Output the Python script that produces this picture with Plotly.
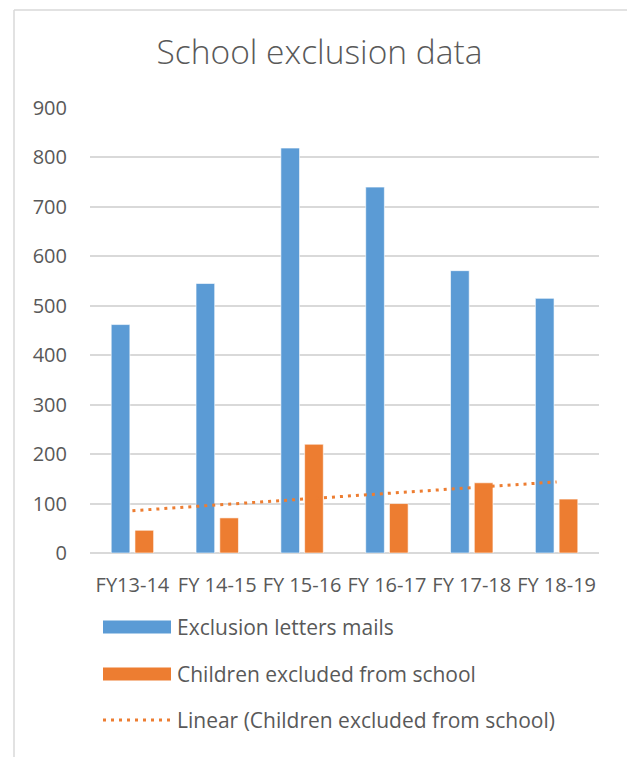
import numpy as np
import plotly.graph_objects as go

categories = ["FY13-14", "FY 14-15", "FY 15-16", "FY 16-17", "FY 17-18", "FY 18-19"]
letters = [462, 545, 819, 740, 571, 515]
excluded = [46, 71, 220, 100, 142, 109]
name_letters = "Exclusion letters mails"
name_excluded = "Children excluded from school"
name_trend = "Linear (Children excluded from school)"
title_text = "School exclusion data"

BLUE = "#5B9BD5"
ORANGE = "#ED7D31"
GREY = "#595959"
FONT = "Open Sans"

W, H = 627, 757
L, R, T, B = 90, 28, 108, 204


def px_x(px):
    return (px - L) / (W - L - R)


def px_y(py):
    return (H - B - py) / (H - T - B)


# linear trendline of the orange series (least squares over category index)
idx = np.arange(1, len(excluded) + 1)
slope, intercept = np.polyfit(idx, excluded, 1)
trend = slope * idx + intercept

fig = go.Figure()
fig.add_trace(go.Bar(x=categories, y=letters, name=name_letters,
                     marker=dict(color=BLUE, line=dict(color="rgba(255,255,255,0.6)", width=1)),
                     width=0.22, offset=-0.25, showlegend=False))
fig.add_trace(go.Bar(x=categories, y=excluded, name=name_excluded,
                     marker=dict(color=ORANGE, line=dict(color="rgba(255,255,255,0.6)", width=1)),
                     width=0.22, offset=0.03, showlegend=False))
fig.add_trace(go.Scatter(x=categories, y=trend, name=name_trend, mode="lines",
                         line=dict(color=ORANGE, width=3, dash="3px,5px"),
                         showlegend=False))

shapes = []
# chart frame (top and left edges visible)
shapes.append(dict(type="line", xref="paper", yref="paper",
                   x0=px_x(14), x1=px_x(640), y0=px_y(10), y1=px_y(10),
                   line=dict(color="#D9D9D9", width=1.5)))
shapes.append(dict(type="line", xref="paper", yref="paper",
                   x0=px_x(14), x1=px_x(14), y0=px_y(10), y1=px_y(770),
                   line=dict(color="#D9D9D9", width=1.5)))

# custom legend
leg_x0, leg_x1 = 103, 171
legend_rows = [(name_letters, BLUE, 627, "bar"),
               (name_excluded, ORANGE, 674, "bar"),
               (name_trend, ORANGE, 720, "line")]
annotations = []
for text, color, cy, kind in legend_rows:
    if kind == "bar":
        shapes.append(dict(type="rect", xref="paper", yref="paper",
                           x0=px_x(leg_x0), x1=px_x(leg_x1),
                           y0=px_y(cy - 6.5), y1=px_y(cy + 6.5),
                           fillcolor=color, line=dict(width=0)))
    else:
        shapes.append(dict(type="line", xref="paper", yref="paper",
                           x0=px_x(leg_x0), x1=px_x(leg_x1),
                           y0=px_y(cy), y1=px_y(cy),
                           line=dict(color=color, width=3, dash="3px,5px")))
    annotations.append(dict(text=text, xref="paper", yref="paper",
                            x=px_x(175), y=px_y(cy), xanchor="left", yanchor="middle",
                            showarrow=False, font=dict(family=FONT, size=21, color=GREY)))

fig.update_layout(
    width=W, height=H,
    margin=dict(l=L, r=R, t=T, b=B),
    paper_bgcolor="white", plot_bgcolor="white",
    title=dict(text=title_text, x=319.5 / W, xanchor="center", xref="container",
               y=1 - 52 / H, yanchor="middle", yref="container",
               font=dict(family=FONT, size=33.5, color=GREY, weight=300)),
    barmode="overlay",
    shapes=shapes,
    annotations=annotations,
    showlegend=False,
)
fig.update_xaxes(type="category", showgrid=False, showline=False, zeroline=False,
                 ticks="", ticklabelstandoff=18,
                 tickfont=dict(family=FONT, size=20, color=GREY))
fig.update_yaxes(range=[0, 900], dtick=100, showgrid=True, gridcolor="#D9D9D9", gridwidth=1.5,
                 zeroline=True, zerolinecolor="#D9D9D9", zerolinewidth=1.5,
                 showline=False, ticks="", ticklabelstandoff=22,
                 tickfont=dict(family=FONT, size=20, color=GREY))

fig.write_html("out.html")
